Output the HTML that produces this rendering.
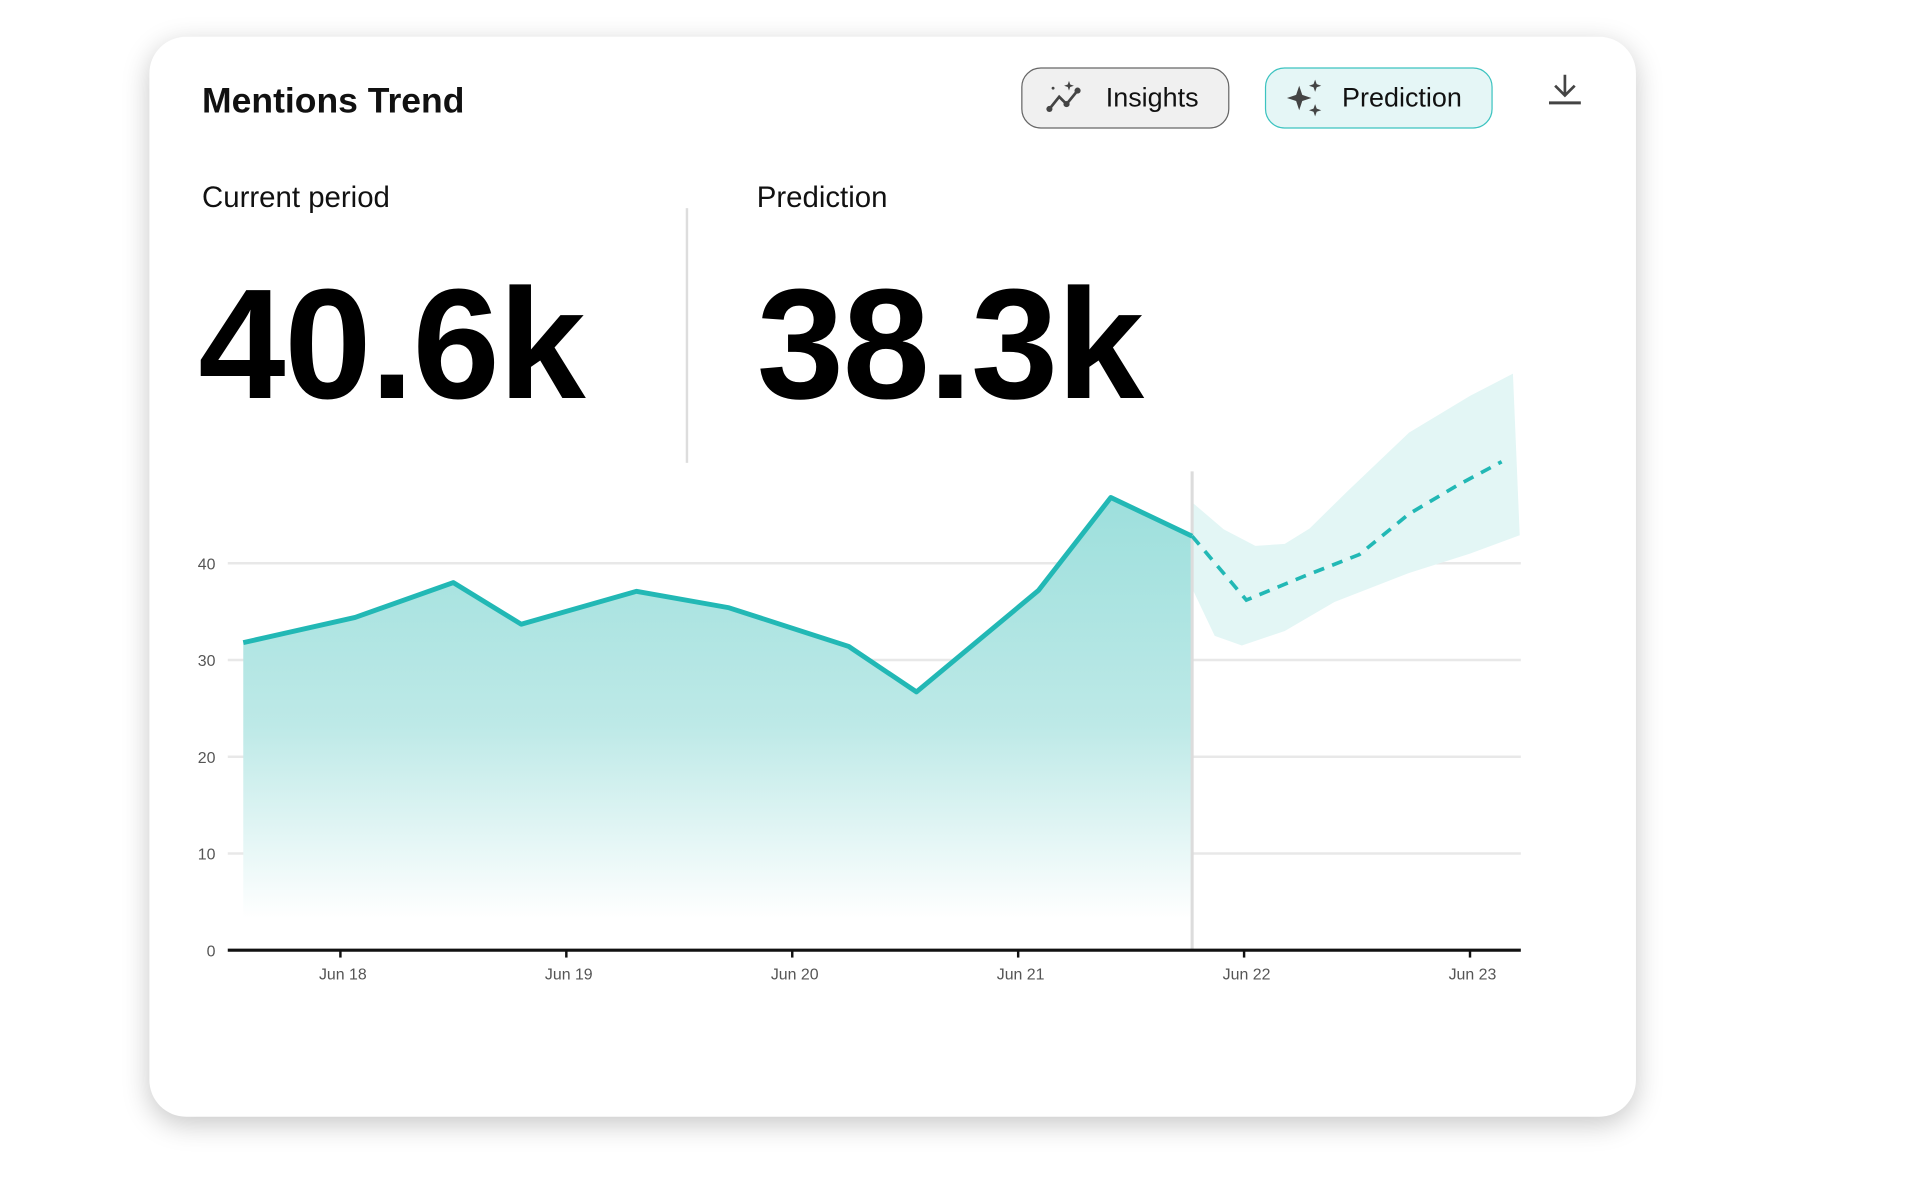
<!DOCTYPE html>
<html><head><meta charset="utf-8">
<style>
html,body{margin:0;padding:0;background:#fff;width:1920px;height:1198px;overflow:hidden;font-family:"Liberation Sans",sans-serif;}
#stage{position:absolute;left:0;top:0;width:1568px;height:979px;transform:scale(1.2245);transform-origin:0 0;}
.card{position:absolute;left:122px;top:30px;width:1214px;height:882px;background:#fff;border-radius:30px;box-shadow:0 6px 22px rgba(0,0,0,0.22);}
.abs{position:absolute;}
.btn{position:absolute;box-sizing:border-box;border-radius:16px;display:flex;align-items:center;font-size:22px;color:#111;}
</style></head><body>
<div id="stage">
<div class="card"></div>
<div class="abs" style="left:165px;top:67px;font-size:29px;font-weight:bold;color:#111;">Mentions Trend</div>
<div class="btn" style="left:834px;top:55px;width:170px;height:50px;background:#f0f0f0;border:1.5px solid #666;">
 <svg width="40" height="30" viewBox="0 0 40 30" style="margin-left:18px"><polyline points="4,24 12,14 18,20 27,9" fill="none" stroke="#444" stroke-width="2.2"/><circle cx="4" cy="24" r="2.5" fill="#444"/><circle cx="18" cy="20" r="2.5" fill="#444"/><circle cx="27" cy="9" r="2.5" fill="#444"/><path d="M20 1 L21 4 L24 5 L21 6 L20 9 L19 6 L16 5 L19 4Z" fill="#444"/><circle cx="7" cy="7" r="1.2" fill="#444"/></svg>
 <span style="margin-left:10px">Insights</span></div>
<div class="btn" style="left:1033px;top:55px;width:186px;height:50px;background:#e5f6f6;border:1.5px solid #3cc3c0;">
 <svg width="34" height="34" viewBox="0 0 34 34" style="margin-left:16px"><path d="M11 7 L13.5 14.5 L21 17 L13.5 19.5 L11 27 L8.5 19.5 L1 17 L8.5 14.5Z" fill="#444"/><path d="M24 2 L25.3 5.7 L29 7 L25.3 8.3 L24 12 L22.7 8.3 L19 7 L22.7 5.7Z" fill="#444"/><path d="M24 22 L25.3 25.7 L29 27 L25.3 28.3 L24 32 L22.7 28.3 L19 27 L22.7 25.7Z" fill="#444"/></svg>
 <span style="margin-left:12px">Prediction</span></div>
<svg class="abs" style="left:1262px;top:58px" width="32" height="30" viewBox="0 0 32 30"><path d="M16 3 V20 M8 12 L16 20 L24 12" fill="none" stroke="#444" stroke-width="2.2"/><line x1="3" y1="26" x2="29" y2="26" stroke="#444" stroke-width="2.5"/></svg>
<div class="abs" style="left:165px;top:148px;font-size:24px;color:#111;">Current period</div>
<div class="abs" style="left:560px;top:170px;width:1.5px;height:208px;background:#ddd;"></div>
<div class="abs" style="left:618px;top:148px;font-size:24px;color:#111;">Prediction</div>
<div class="abs" style="left:162px;top:212px;font-size:128px;line-height:140px;font-weight:bold;color:#000;letter-spacing:-1px;">40.6k</div>
<div class="abs" style="left:618px;top:212px;font-size:128px;line-height:140px;font-weight:bold;color:#000;letter-spacing:-1px;">38.3k</div>
<svg id="chart" class="abs" style="left:0;top:0" width="1568" height="979">
<defs><linearGradient id="ag" gradientUnits="userSpaceOnUse" x1="0" y1="400" x2="0" y2="750"><stop offset="0" stop-color="#9cdfdc"/><stop offset="0.55" stop-color="#bde9e7"/><stop offset="1" stop-color="#ffffff"/></linearGradient></defs>
</svg>
</div>
<script>
const yTicks=[0,10,20,30,40];
const dateLabels=["Jun 18","Jun 19","Jun 20","Jun 21","Jun 22","Jun 23"];
const actualT=[-0.43,0.065,0.50,0.80,1.31,1.72,2.25,2.55,3.09,3.41,3.77];
const actualV=[31.8,34.4,38.0,33.7,37.1,35.4,31.4,26.7,37.2,46.8,42.8];
const predT=[3.77,4.01,4.27,4.51,4.73,4.94,5.14];
const predV=[42.8,36.2,38.7,40.9,45.1,48.0,50.5];
const bandT=[3.77,3.91,4.05,4.18,4.29,4.46,4.73,5.00,5.19];
const bandHi=[46.3,43.5,41.8,42.0,43.6,47.5,53.5,57.3,59.6];
const bandLoT=[3.77,3.87,3.99,4.18,4.40,4.73,5.00,5.22];
const bandLo=[37.4,32.5,31.5,33.0,36.0,39.0,41.0,42.9];
const splitT=3.77;
const NS="http://www.w3.org/2000/svg";
const svg=document.getElementById('chart');
function xS(t){return 278+t*184.5;}
function yS(v){return 776-v*7.9;}
function mk(tag,attrs){const e=document.createElementNS(NS,tag);for(const k in attrs)e.setAttribute(k,attrs[k]);svg.appendChild(e);return e;}
yTicks.forEach(v=>{
 if(v>0){const g=mk('line',{x1:186,x2:1242,y1:yS(v),y2:yS(v),stroke:'#e8e8e8','stroke-width':2});
 
 }
 const t=mk('text',{x:176,y:yS(v)+5,'text-anchor':'end','font-size':13,fill:'#555','font-family':'Liberation Sans, sans-serif'});
 t.textContent=v;
 
 
});
let bp=bandT.map((t,i)=>xS(t)+','+yS(bandHi[i]));
for(let i=bandLoT.length-1;i>=0;i--)bp.push(xS(bandLoT[i])+','+yS(bandLo[i]));
const band=mk('polygon',{points:bp.join(' '),fill:'#e3f6f5'});


let ap=actualT.map((t,i)=>xS(t)+','+yS(actualV[i]));
ap.push(xS(actualT[actualT.length-1])+','+yS(0));ap.push(xS(actualT[0])+','+yS(0));
const area=mk('polygon',{points:ap.join(' '),fill:'url(#ag)'});


const vl=mk('line',{x1:xS(splitT),x2:xS(splitT),y1:385,y2:yS(0),stroke:'#dcdcdc','stroke-width':2.5});


const line=mk('polyline',{points:actualT.map((t,i)=>xS(t)+','+yS(actualV[i])).join(' '),fill:'none',stroke:'#22b8b5','stroke-width':4,'stroke-linejoin':'round'});


const pl=mk('polyline',{points:predT.map((t,i)=>xS(t)+','+yS(predV[i])).join(' '),fill:'none',stroke:'#22b8b5','stroke-width':3,'stroke-dasharray':'9,7'});


const ax=mk('line',{x1:186,x2:1242,y1:yS(0),y2:yS(0),stroke:'#111','stroke-width':2.5});


dateLabels.forEach((d,i)=>{
 const tk=mk('line',{x1:xS(i),x2:xS(i),y1:yS(0),y2:yS(0)+6,stroke:'#111','stroke-width':2});
 
 
 const t=mk('text',{x:xS(i)+2,y:800,'text-anchor':'middle','font-size':13,fill:'#555','font-family':'Liberation Sans, sans-serif'});
 t.textContent=d;
 
 
});
</script>
</body></html>
